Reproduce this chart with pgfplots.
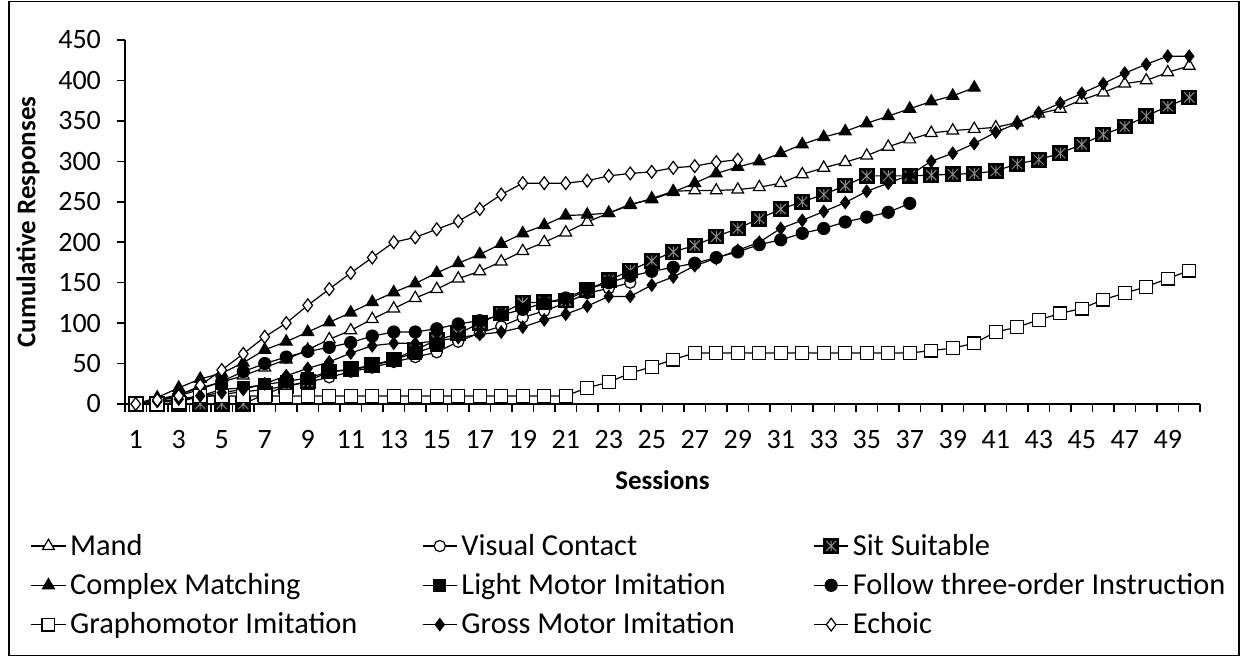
\documentclass[border=0pt]{standalone}
\usepackage{fontspec}
\setmainfont{Carlito}
\usepackage{pgfplots}
\pgfplotsset{compat=1.18}
\usepackage{pgfplotstable}

\pgfdeclareplotmark{sqast}{%
  \pgfpathrectangle{\pgfqpoint{-\pgfplotmarksize}{-\pgfplotmarksize}}{\pgfqpoint{2\pgfplotmarksize}{2\pgfplotmarksize}}%
  \pgfsetfillcolor{black}\pgfusepathqfillstroke
  \pgfscope
  \pgfsetstrokecolor{black!45}\pgfsetlinewidth{0.5pt}%
  \pgfpathmoveto{\pgfqpoint{0pt}{-0.75\pgfplotmarksize}}\pgfpathlineto{\pgfqpoint{0pt}{0.75\pgfplotmarksize}}%
  \pgfpathmoveto{\pgfqpoint{-0.7\pgfplotmarksize}{-0.7\pgfplotmarksize}}\pgfpathlineto{\pgfqpoint{0.7\pgfplotmarksize}{0.7\pgfplotmarksize}}%
  \pgfpathmoveto{\pgfqpoint{-0.7\pgfplotmarksize}{0.7\pgfplotmarksize}}\pgfpathlineto{\pgfqpoint{0.7\pgfplotmarksize}{-0.7\pgfplotmarksize}}%
  \pgfusepathqstroke
  \endpgfscope
}

\pgfplotstableread{
s v
1 0
2 5
3 12
4 20
5 27
6 35
7 45
8 55
9 67
10 80
11 91
12 105
13 118
14 131
15 142
16 155
17 164
18 176
19 189
20 200
21 212
22 225
23 236
24 246
25 254
26 263
27 264
28 264
29 265
30 268
31 273
32 284
33 292
34 299
35 307
36 318
37 327
38 335
39 338
40 340
41 342
42 348
43 359
44 365
45 376
46 385
47 396
48 400
49 410
50 418
}\mand

\pgfplotstableread{
s v
1 0
2 2
3 5
4 8
5 12
6 15
7 18
8 22
9 27
10 33
11 40
12 45
13 52
14 58
15 64
16 77
17 88
18 96
19 107
20 115
21 125
22 137
23 143
24 150
}\visual

\pgfplotstableread{
s v
1 0
2 0
3 0
4 0
5 0
6 0
7 12
8 22
9 28
10 40
11 43
12 48
13 55
14 67
15 79
16 87
17 100
18 112
19 125
20 126
21 128
22 141
23 153
24 165
25 177
26 188
27 196
28 207
29 217
30 229
31 241
32 250
33 259
34 270
35 282
36 282
37 282
38 283
39 284
40 285
41 288
42 297
43 302
44 310
45 321
46 333
47 343
48 356
49 368
50 379
}\sit

\pgfplotstableread{
s v
1 0
2 8
3 20
4 31
5 38
6 51
7 67
8 77
9 89
10 101
11 113
12 126
13 138
14 149
15 162
16 174
17 185
18 198
19 211
20 221
21 233
22 234
23 236
24 247
25 253
26 262
27 273
28 285
29 293
30 300
31 310
32 321
33 330
34 337
35 347
36 356
37 365
38 374
39 381
40 391
}\complex

\pgfplotstableread{
s v
1 0
2 2
3 5
4 10
5 18
6 20
7 24
8 28
9 32
10 40
11 42
12 47
13 55
14 63
15 72
}\light

\pgfplotstableread{
s v
1 0
2 3
3 10
4 18
5 28
6 40
7 50
8 58
9 65
10 70
11 76
12 84
13 89
14 89
15 93
16 99
17 103
18 110
19 117
20 125
21 131
22 142
23 150
24 158
25 164
26 169
27 174
28 181
29 188
30 197
31 203
32 211
33 217
34 225
35 231
36 237
37 248
}\follow

\pgfplotstableread{
s v
1 0
2 0
3 2
4 10
5 10
6 10
7 10
8 10
9 10
10 10
11 10
12 10
13 10
14 10
15 10
16 10
17 10
18 10
19 10
20 10
21 10
22 20
23 27
24 38
25 46
26 55
27 63
28 63
29 63
30 63
31 63
32 63
33 63
34 63
35 63
36 63
37 63
38 66
39 69
40 75
41 89
42 95
43 104
44 112
45 118
46 129
47 137
48 145
49 155
50 165
}\grapho

\pgfplotstableread{
s v
1 0
2 3
3 6
4 10
5 14
6 18
7 25
8 35
9 44
10 52
11 63
12 72
13 75
14 75
15 78
16 82
17 86
18 89
19 95
20 104
21 111
22 121
23 133
24 133
25 147
26 157
27 171
28 180
29 190
30 200
31 217
32 227
33 238
34 249
35 263
36 273
37 283
38 300
39 310
40 322
41 336
42 347
43 360
44 372
45 384
46 396
47 409
48 420
49 430
50 430
}\gross

\pgfplotstableread{
s v
1 0
2 5
3 10
4 23
5 42
6 62
7 83
8 100
9 122
10 142
11 162
12 181
13 200
14 206
15 216
16 226
17 241
18 259
19 273
20 273
21 273
22 276
23 282
24 285
25 287
26 292
27 294
28 299
29 302
}\echoic

\begin{document}
\begin{tikzpicture}
\useasboundingbox (0,0) rectangle (622pt,328.5pt);
\draw[line width=0.8pt] (4.5pt,0.8pt) rectangle (619.5pt,327.7pt);
\begin{axis}[
  at={(62.5pt,126.5pt)}, anchor=south west,
  scale only axis, width=537.5pt, height=182pt,
  xmin=0.5, xmax=50.5, ymin=0, ymax=450,
  axis x line*=bottom, axis y line*=left,
  axis line style={line width=0.8pt},
  xtick={1,3,...,49},
  major x tick style={draw=none},
  minor xtick={0.5,1.5,...,50.5},
  minor x tick style={line width=0.8pt},
  minor tick length=4pt,
  ytick={0,50,...,450},
  major tick length=4pt,
  tick align=outside,
  tick style={line width=0.8pt, black},
  ticklabel style={font=\fontsize{14}{16}\selectfont},
  /pgf/number format/assume math mode=true,
  xticklabel style={yshift=-5.5pt},
  yticklabel style={xshift=-4.5pt},
  xlabel={\textbf{Sessions}},
  ylabel={\textbf{Cumulative Responses}},
  label style={font=\fontsize{13.5}{15}\selectfont},
  xlabel style={yshift=-4pt},
  ylabel style={yshift=2.5pt},
  clip=false,
  every axis plot/.append style={black, line width=0.6pt, mark options={solid, line width=0.6pt}},
  legend columns=3,
  legend style={draw=none, fill=none, at={(-0.088,-0.345)}, anchor=north west,
    font=\fontsize{15.2}{17}\selectfont, row sep=3.6pt, inner sep=0pt,
    /tikz/every even column/.append style={column sep=3pt}},
  legend cell align=left,
]
\addplot[mark=triangle*, mark options={fill=white}, mark size=3.4pt] table[x=s,y=v]{\mand};
\addlegendentry{\makebox[171pt][l]{Mand}}
\addplot[mark=*, mark options={fill=white}, mark size=2.8pt] table[x=s,y=v]{\visual};
\addlegendentry{\makebox[171pt][l]{Visual Contact}}
\addplot[mark=sqast, mark size=3.6pt] table[x=s,y=v]{\sit};
\addlegendentry{Sit Suitable}
\addplot[mark=triangle*, mark options={fill=black}, mark size=3.4pt] table[x=s,y=v]{\complex};
\addlegendentry{\makebox[171pt][l]{Complex Matching}}
\addplot[mark=square*, mark options={fill=black}, mark size=3pt] table[x=s,y=v]{\light};
\addlegendentry{\makebox[171pt][l]{Light Motor Imitation}}
\addplot[mark=*, mark options={fill=black}, mark size=3pt] table[x=s,y=v]{\follow};
\addlegendentry{Follow three-order Instruction}
\addplot[mark=square*, mark options={fill=white}, mark size=3.2pt] table[x=s,y=v]{\grapho};
\addlegendentry{\makebox[171pt][l]{Graphomotor Imitation}}
\addplot[mark=diamond*, mark options={fill=black}, mark size=3pt] table[x=s,y=v]{\gross};
\addlegendentry{\makebox[171pt][l]{Gross Motor Imitation}}
\addplot[mark=diamond*, mark options={fill=white}, mark size=3.2pt] table[x=s,y=v]{\echoic};
\addlegendentry{Echoic}
\end{axis}
\end{tikzpicture}
\end{document}
